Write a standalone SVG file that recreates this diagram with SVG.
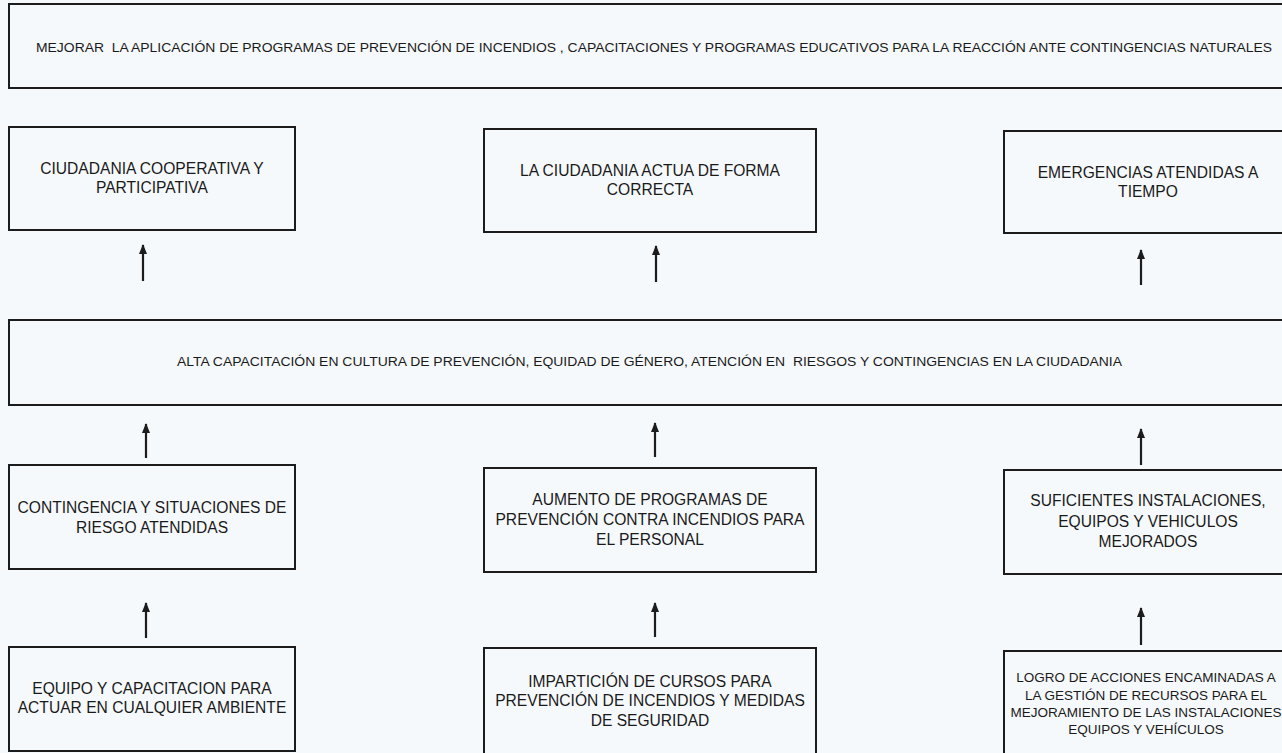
<svg xmlns="http://www.w3.org/2000/svg" width="1282" height="753" viewBox="0 0 1282 753">
<style>
.box{fill:none;stroke:#1c1c1c;stroke-width:2}
.t{font-family:"Liberation Sans",Arial,sans-serif;font-size:15.6px;fill:#1a1a1a;text-anchor:middle}
.s{font-size:13.5px}
.m{font-size:12.5px}
.r{font-size:13.5px}
.c{stroke:#1c1c1c;stroke-width:2.2;fill:none;marker-end:url(#ah)}
</style>
<defs>
<marker id="ah" viewBox="0 0 10 8" refX="9" refY="4" markerWidth="10" markerHeight="8" markerUnits="userSpaceOnUse" orient="auto">
<path d="M0,0 L10,4 L0,8 Z" fill="#1c1c1c"/>
</marker>
</defs>
<rect width="1282" height="753" fill="#f6f9fc"/>
<g id="fin">
<rect class="box" x="9" y="4" width="1290" height="84"/>
<text class="t s" x="654" y="52" textLength="1236" lengthAdjust="spacingAndGlyphs" xml:space="preserve">MEJORAR  LA APLICACIÓN DE PROGRAMAS DE PREVENCIÓN DE INCENDIOS , CAPACITACIONES Y PROGRAMAS EDUCATIVOS PARA LA REACCIÓN ANTE CONTINGENCIAS NATURALES</text>
</g>
<g id="efecto1">
<rect class="box" x="9" y="127" width="286" height="103"/>
<text class="t" x="152" y="174">CIUDADANIA COOPERATIVA Y</text>
<text class="t" x="152" y="193">PARTICIPATIVA</text>
</g>
<g id="efecto2">
<rect class="box" x="484" y="129" width="332" height="103"/>
<text class="t" x="650" y="176">LA CIUDADANIA ACTUA DE FORMA</text>
<text class="t" x="650" y="195">CORRECTA</text>
</g>
<g id="efecto3">
<rect class="box" x="1004" y="131" width="290" height="102"/>
<text class="t" x="1148" y="178">EMERGENCIAS ATENDIDAS A</text>
<text class="t" x="1148" y="197">TIEMPO</text>
</g>
<g id="proposito">
<rect class="box" x="9" y="320" width="1290" height="85"/>
<text class="t m" x="649.5" y="366" textLength="945" lengthAdjust="spacingAndGlyphs" xml:space="preserve">ALTA CAPACITACIÓN EN CULTURA DE PREVENCIÓN, EQUIDAD DE GÉNERO, ATENCIÓN EN  RIESGOS Y CONTINGENCIAS EN LA CIUDADANIA</text>
</g>
<g id="componente1">
<rect class="box" x="9" y="465" width="286" height="104"/>
<text class="t" x="152" y="513">CONTINGENCIA Y SITUACIONES DE</text>
<text class="t" x="152" y="533">RIESGO ATENDIDAS</text>
</g>
<g id="componente2">
<rect class="box" x="484" y="468" width="332" height="104"/>
<text class="t" x="650" y="505">AUMENTO DE PROGRAMAS DE</text>
<text class="t" x="650" y="525">PREVENCIÓN CONTRA INCENDIOS PARA</text>
<text class="t" x="650" y="545">EL PERSONAL</text>
</g>
<g id="componente3">
<rect class="box" x="1004" y="470" width="290" height="104"/>
<text class="t" x="1148" y="506">SUFICIENTES INSTALACIONES,</text>
<text class="t" x="1148" y="527">EQUIPOS Y VEHICULOS</text>
<text class="t" x="1148" y="547">MEJORADOS</text>
</g>
<g id="actividad1">
<rect class="box" x="9" y="647" width="286" height="104"/>
<text class="t" x="152" y="694">EQUIPO Y CAPACITACION PARA</text>
<text class="t" x="152" y="713">ACTUAR EN CUALQUIER AMBIENTE</text>
</g>
<g id="actividad2">
<rect class="box" x="484" y="648" width="332" height="110"/>
<text class="t" x="650" y="687">IMPARTICIÓN DE CURSOS PARA</text>
<text class="t" x="650" y="706">PREVENCIÓN DE INCENDIOS Y MEDIDAS</text>
<text class="t" x="650" y="726">DE SEGURIDAD</text>
</g>
<g id="actividad3">
<rect class="box" x="1004" y="651" width="290" height="110"/>
<text class="t r" x="1146" y="682">LOGRO DE ACCIONES ENCAMINADAS A</text>
<text class="t r" x="1146" y="700">LA GESTIÓN DE RECURSOS PARA EL</text>
<text class="t r" x="1146" y="717">MEJORAMIENTO DE LAS INSTALACIONES</text>
<text class="t r" x="1146" y="734">EQUIPOS Y VEHÍCULOS</text>
</g>
<g id="connectors">
<line class="c" x1="143" y1="281" x2="143" y2="245"/>
<line class="c" x1="656" y1="282" x2="656" y2="246"/>
<line class="c" x1="1141" y1="285" x2="1141" y2="250"/>
<line class="c" x1="146" y1="458" x2="146" y2="424"/>
<line class="c" x1="655" y1="457" x2="655" y2="423"/>
<line class="c" x1="1141" y1="465" x2="1141" y2="429"/>
<line class="c" x1="146" y1="638" x2="146" y2="603"/>
<line class="c" x1="655" y1="637" x2="655" y2="603"/>
<line class="c" x1="1141" y1="645" x2="1141" y2="608"/>
</g>
</svg>
